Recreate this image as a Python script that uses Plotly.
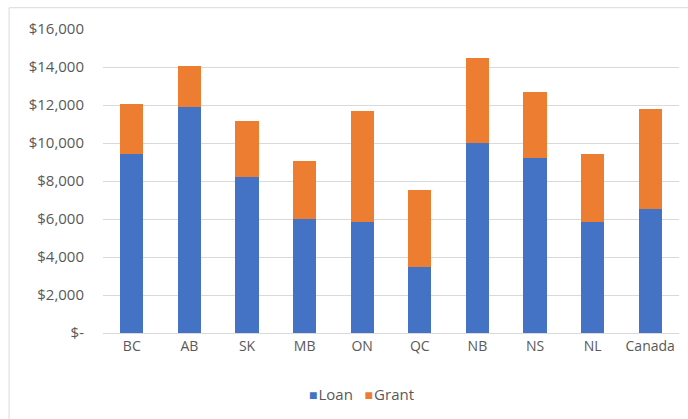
import plotly.graph_objects as go

provinces = ["BC", "AB", "SK", "MB", "ON", "QC", "NB", "NS", "NL", "Canada"]
loan = [9410, 11870, 8200, 6000, 5855, 3480, 9990, 9215, 5820, 6510]
grant = [2640, 2160, 2980, 3055, 5805, 4030, 4480, 3465, 3590, 5270]

y_ticks = [0, 2000, 4000, 6000, 8000, 10000, 12000, 14000, 16000]
y_tick_text = ["$-", "$2,000", "$4,000", "$6,000", "$8,000", "$10,000",
               "$12,000", "$14,000", "$16,000"]

LOAN_COLOR = "#4472C4"
GRANT_COLOR = "#ED7D31"
FONT = "Open Sans, Noto Sans, sans-serif"
GREY_TEXT = "#595959"

fig = go.Figure()
fig.add_trace(go.Bar(name="Loan", x=provinces, y=loan, marker_color=LOAN_COLOR,
                     marker_line_width=0))
fig.add_trace(go.Bar(name="Grant", x=provinces, y=grant, marker_color=GRANT_COLOR,
                     marker_line_width=0))

# compact legend row: coloured squares followed by series names
legend_text = (f"<span style='color:{LOAN_COLOR}; font-size:14px'>■</span>"
               f"<span style='font-size:4px'>&nbsp;</span>Loan"
               f"&nbsp;&nbsp;&nbsp;<span style='color:{GRANT_COLOR}; font-size:14px'>■</span>"
               f"<span style='font-size:4px'>&nbsp;</span>Grant")

fig.update_layout(
    barmode="stack",
    bargap=0.6,
    width=688,
    height=419,
    margin=dict(l=103, r=9, t=29, b=86),
    paper_bgcolor="white",
    plot_bgcolor="white",
    font=dict(family=FONT, size=14, color=GREY_TEXT),
    showlegend=False,
    xaxis=dict(showgrid=False, showline=True, linecolor="#d9d9d9", linewidth=1,
               ticks="", tickfont=dict(size=14, color=GREY_TEXT)),
    yaxis=dict(range=[0, 16000], tickvals=y_ticks, ticktext=y_tick_text,
               showgrid=True, gridcolor="#d9d9d9", gridwidth=1, zeroline=False,
               showline=False, ticks="", ticklabelstandoff=18,
               tickfont=dict(size=15, color=GREY_TEXT)),
    annotations=[dict(text=legend_text, xref="paper", yref="paper",
                      x=0.448, y=-0.2, xanchor="center", yanchor="middle",
                      showarrow=False, font=dict(size=15, color=GREY_TEXT))],
    shapes=[dict(type="rect", xref="paper", yref="paper",
                 x0=-0.163, x1=1.2, y0=-0.5, y1=1.07,
                 line=dict(color="#d9d9d9", width=1), fillcolor="rgba(0,0,0,0)",
                 layer="below")],
)

fig.write_html("out.html")
